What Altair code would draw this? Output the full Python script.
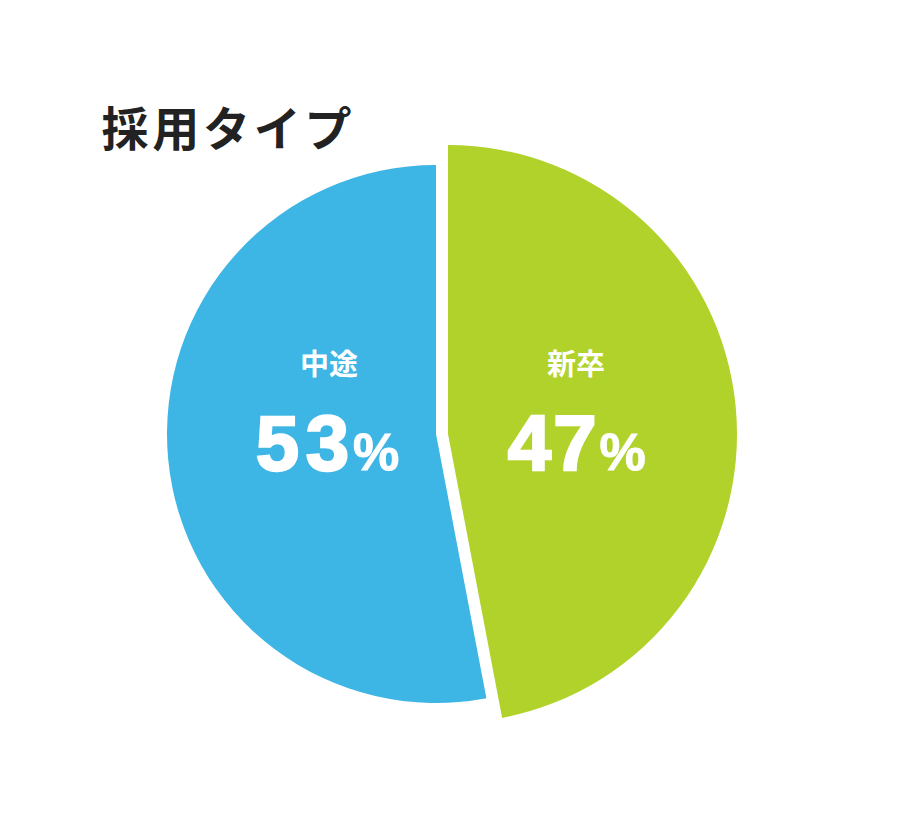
import math
import altair as alt
import pandas as pd

# data
categories = ["新卒", "中途"]
shares = [47, 53]
order = [0, 1]
colors = ["#B0D22A", "#3DB5E5"]
title_text = "採用タイプ"

df = pd.DataFrame({"category": categories, "share": shares, "order": order,
                   "digits": [str(v) for v in shares], "pct": ["%", "%"]})

base = alt.Chart(df).transform_stack(
    stack="share", groupby=[], as_=["start", "end"],
    sort=[alt.SortField("order", order="ascending")]
)

theta_scale = alt.Scale(domain=[0, 100], range=[0, 2 * math.pi])
color_scale = alt.Scale(domain=categories, range=colors)

def slice_layer(cat, cx, cy, r):
    return base.transform_filter(alt.datum.category == cat).mark_arc(stroke=None).encode(
        theta=alt.Theta("start:Q", scale=theta_scale, stack=False),
        theta2="end:Q",
        color=alt.Color("category:N", scale=color_scale, legend=None),
        x=alt.value(cx), y=alt.value(cy), radius=alt.value(r),
    )

green = slice_layer("新卒", 440, 426, 289)
blue = slice_layer("中途", 428, 426, 269)

def labels(cat, cx, d1x, d2x, px):
    src = base.transform_filter(alt.datum.category == cat).transform_calculate(
        d1="substring(datum.digits, 0, 1)", d2="substring(datum.digits, 1, 2)")
    name = src.mark_text(font="Noto Sans CJK JP", fontSize=29, fontWeight="bold",
                         color="white", align="center", baseline="middle").encode(
        x=alt.value(cx), y=alt.value(358), text="category:N")
    dstyle = dict(font="Liberation Sans", fontSize=78, fontWeight="bold",
                  color="white", stroke="white", strokeWidth=2.4,
                  align="center", baseline="alphabetic")
    dig1 = src.mark_text(**dstyle).encode(x=alt.value(d1x), y=alt.value(462), text="d1:N")
    dig2 = src.mark_text(**dstyle).encode(x=alt.value(d2x), y=alt.value(462), text="d2:N")
    pct = src.mark_text(font="Liberation Sans", fontSize=52, fontWeight="bold",
                        color="white", stroke="white", strokeWidth=1,
                        align="center", baseline="alphabetic").encode(
        x=alt.value(px), y=alt.value(462), text="pct:N")
    return [name, dig1, dig2, pct]

title_df = pd.DataFrame({"ch": list(title_text), "i": list(range(len(title_text)))})
title = alt.Chart(title_df).mark_text(
    font="Noto Sans CJK JP", fontSize=47, fontWeight="bold", color="#222222",
    align="center", baseline="alphabetic").encode(
    x=alt.X("i:O", scale=alt.Scale(type="point", range=[117, 320], padding=0), axis=None),
    y=alt.value(138), text="ch:N")

chart = alt.layer(
    blue, green,
    *labels("中途", 321, 269.5, 319.5, 368),
    *labels("新卒", 568, 521.5, 567, 614.5),
    title,
).properties(
    width=904, height=804, autosize=alt.AutoSizeParams(type="none"), padding=0,
    background="white",
).configure_view(stroke=None)

chart.save("out.html", embed_options={"renderer": "svg", "actions": False})
